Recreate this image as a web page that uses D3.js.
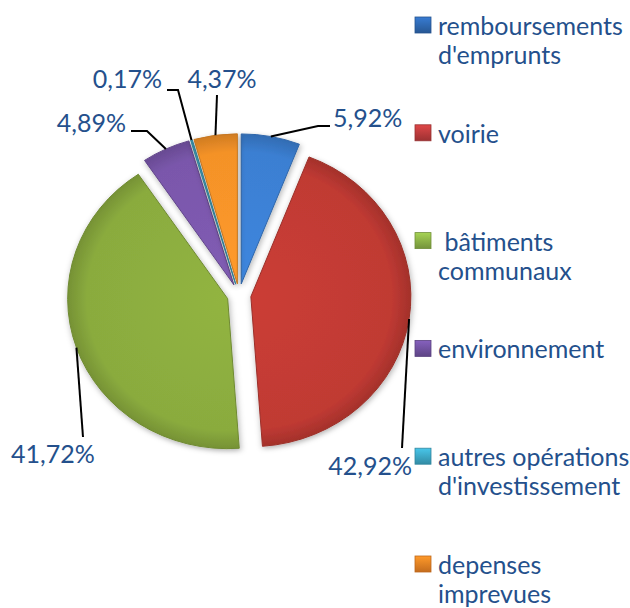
<!DOCTYPE html>
<html>
<head>
<meta charset="utf-8">
<title>Pie investissements</title>
<script src="https://cdnjs.cloudflare.com/ajax/libs/d3/7.8.5/d3.min.js"></script>
<style>
  body { margin: 0; background: #fff; }
  svg { display: block; }
  .lbl { font-family: Lato, "Open Sans", sans-serif; font-size: 25px; fill: #24508c; white-space: pre; }
</style>
</head>
<body>
<svg id="chart" width="630" height="608"></svg>
<script>
// data
var categories = [
  ["remboursements", "d'emprunts"],
  ["voirie"],
  [" bâtiments", "communaux"],
  ["environnement"],
  ["autres opérations", "d'investissement"],
  ["depenses", "imprevues"]
];
var values = [5.92, 42.92, 41.72, 4.89, 0.17, 4.37];
var colors = ["#3b7fd2", "#c03a33", "#8aab3e", "#7a57ab", "#3fa6c4", "#f49228"];
var markerColors = ["#2d64aa", "#b4393a", "#86aa44", "#6c4e99", "#3aa0bd", "#e27c22"];

// label placement (text x, baseline y, anchor, elbow points)
var labelPos = [
  { x: 333, y: 127, anchor: "start", bend: [[318, 126], [330, 126]] },
  { x: 412, y: 475, anchor: "end", bend: [[402, 448]] },
  { x: 11, y: 463, anchor: "start", bend: [[83, 437]] },
  { x: 126, y: 132, anchor: "end", bend: [[147, 131], [131, 131]] },
  { x: 162, y: 88, anchor: "end", bend: [[178, 90], [167, 90]] },
  { x: 222, y: 88, anchor: "middle", bend: [[217, 95]] }
];

var svg = d3.select("#chart");
var cx = 239, cy = 295, r = 160, sy = 0.9375, explode = 12;

var defs = svg.append("defs");
var f = defs.append("filter").attr("id", "shadow")
  .attr("x", "-20%").attr("y", "-20%").attr("width", "140%").attr("height", "140%");
f.append("feDropShadow").attr("dx", 1).attr("dy", 2).attr("stdDeviation", 3)
  .attr("flood-color", "#000").attr("flood-opacity", 0.3);

colors.forEach(function(c, i) {
  var g = defs.append("radialGradient").attr("id", "grad" + i)
    .attr("gradientUnits", "userSpaceOnUse").attr("cx", 0).attr("cy", 0).attr("r", r);
  g.append("stop").attr("offset", "0%").attr("stop-color", d3.color(c).brighter(0.15));
  g.append("stop").attr("offset", "88%").attr("stop-color", c);
  g.append("stop").attr("offset", "100%").attr("stop-color", d3.color(c).darker(0.45));
  var m = defs.append("linearGradient").attr("id", "mk" + i)
    .attr("x1", 0).attr("y1", 0).attr("x2", 0).attr("y2", 1);
  m.append("stop").attr("offset", "0%").attr("stop-color", d3.color(markerColors[i]).brighter(0.6));
  m.append("stop").attr("offset", "100%").attr("stop-color", d3.color(markerColors[i]).darker(0.4));
});

var pie = d3.pie().sort(null).value(function(d) { return d; });
var arcs = pie(values);
var arc = d3.arc().innerRadius(0).outerRadius(r);

function offset(d) {
  var a = (d.startAngle + d.endAngle) / 2;
  return [cx + explode * Math.sin(a), cy - explode * Math.cos(a) * sy];
}

var slices = svg.append("g").selectAll("g.slice")
  .data(arcs)
  .enter()
  .append("g")
  .attr("class", "slice")
  .attr("transform", function(d) {
    var o = offset(d);
    return "translate(" + o[0] + "," + o[1] + ") scale(1," + sy + ")";
  });

slices.append("path")
  .attr("d", arc)
  .attr("fill", function(d, i) { return "url(#grad" + i + ")"; })
  .attr("stroke", function(d, i) { return d3.color(colors[i]).darker(0.6); })
  .attr("stroke-width", 1)
  .attr("vector-effect", "non-scaling-stroke")
  .attr("filter", "url(#shadow)");

// leader lines and value labels
var fmt = function(v) { return v.toFixed(2).replace(".", ",") + "%"; };
arcs.forEach(function(d, i) {
  var a = (d.startAngle + d.endAngle) / 2;
  var o = offset(d);
  var start = [o[0] + r * Math.sin(a), o[1] - r * Math.cos(a) * sy];
  var pts = [start].concat(labelPos[i].bend);
  svg.append("path")
    .attr("d", d3.line()(pts))
    .attr("fill", "none")
    .attr("stroke", "#000")
    .attr("stroke-width", 2);
  svg.append("text")
    .attr("class", "lbl")
    .attr("x", labelPos[i].x)
    .attr("y", labelPos[i].y)
    .attr("text-anchor", labelPos[i].anchor)
    .text(fmt(values[i]));
});

// legend
var legend = svg.append("g").attr("transform", "translate(415,17)");
var item = legend.selectAll("g.item")
  .data(categories)
  .enter()
  .append("g")
  .attr("class", "item")
  .attr("transform", function(d, i) { return "translate(0," + (i * 107.8) + ")"; });

item.append("rect")
  .attr("width", 16).attr("height", 16)
  .attr("fill", function(d, i) { return "url(#mk" + i + ")"; })
  .attr("stroke", function(d, i) { return d3.color(markerColors[i]).darker(0.5); })
  .attr("stroke-width", 0.8);

item.each(function(lines) {
  var t = d3.select(this).append("text").attr("class", "lbl").attr("x", 23).attr("y", 18);
  lines.forEach(function(s, j) {
    t.append("tspan").attr("x", 23).attr("dy", j ? 29 : 0).text(s);
  });
});
</script>
</body>
</html>
